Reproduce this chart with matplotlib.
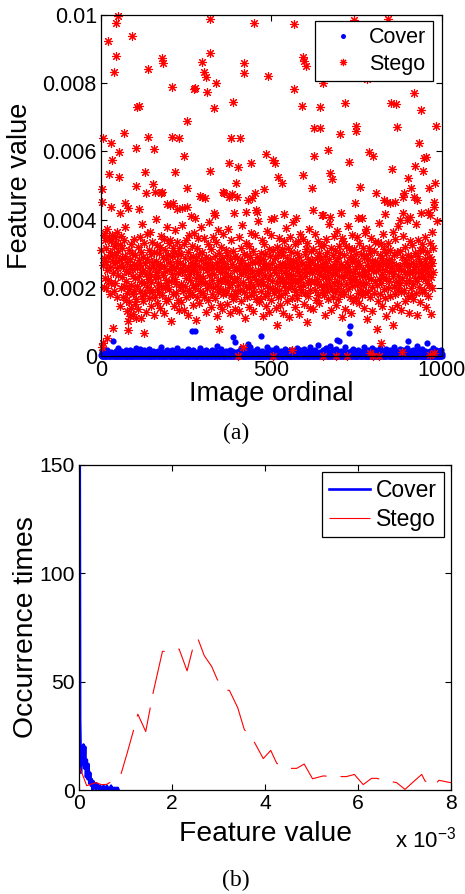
import numpy as np
import matplotlib
matplotlib.use('Agg')
import matplotlib.pyplot as plt

plt.rcParams['font.family'] = ['Liberation Sans', 'DejaVu Sans']
plt.rcParams['lines.scale_dashes'] = False

# ---- (a) feature value per image, units of 1e-5 ----
# sparse stego points above the main band (ordinal, value)
stego_sparse_ord = [49, 44, 20, 90, 44, 39, 7, 29, 31, 23, 52, 53, 56, 67, 3, 4, 29, 71, 104, 106,
                    111, 138, 137, 156, 129, 104, 133, 152, 180, 183, 179, 208, 208, 229, 217, 201, 211, 253, 243, 252,
                    237, 272, 276, 295, 302, 308, 310, 319, 336, 321, 331, 321, 296, 289, 276, 330, 362, 374, 387, 382,
                    408, 395, 402, 376, 400, 418, 418, 439, 450, 443, 453, 457, 489, 484, 477, 504, 511, 520, 531, 537,
                    499, 567, 567, 589, 592, 596, 601, 592, 620, 625, 641, 643, 626, 651, 665, 672, 677, 700, 716, 726,
                    749, 749, 760, 744, 780, 787, 799, 743, 841, 853, 850, 866, 868, 829, 839, 885, 890, 899, 909, 919,
                    927, 932, 938, 944, 948, 954, 961, 980, 976, 982, 922,
                    80, 111, 158, 176, 193, 222, 251, 305, 335, 359, 384, 432, 425, 455, 572, 623, 651, 672, 705, 755,
                    807, 834, 848, 861, 878, 887, 905, 917, 938, 966, 976, 986]
stego_sparse_val = [997, 978, 925, 938, 880, 834, 638, 626, 575, 534, 524, 599, 418, 653, 489, 453, 438, 450, 611, 731,
                    733, 841, 641, 607, 539, 499, 477, 503, 873, 860, 482, 788, 641, 638, 539, 443, 448, 689, 587, 492,
                    433, 782, 787, 861, 834, 819, 773, 888, 800, 987, 726, 543, 467, 469, 404, 418, 477, 465, 746, 638,
                    640, 506, 555, 567, 467, 858, 831, 565, 978, 462, 477, 421, 821, 591, 489, 575, 565, 526, 506, 415,
                    401, 973, 782, 733, 878, 865, 850, 531, 492, 668, 668, 731, 587, 802, 604, 536, 519, 651, 743, 568,
                    674, 660, 497, 450, 811, 599, 587, 985, 987, 547, 741, 739, 673, 457, 453, 467, 477, 523, 492, 772,
                    457, 626, 721, 543, 580, 585, 492, 506, 453, 674, 557,
                    433, 430, 482, 479, 446, 431, 436, 462, 413, 482, 474, 457, 421, 428, 404, 428, 413, 409, 418, 406,
                    477, 415, 448, 453, 399, 418, 409, 467, 418, 413, 438, 396]
# stego points below the main band
stego_low_ord = [403, 415, 503, 560, 651, 690, 721, 790, 797, 814, 822, 883, 966, 976, 809, 856, 36, 19, 5, 80, 126, 346, 516, 2]
stego_low_val = [0, 27, 0, 18, 0, 0, 0, 10, 0, 0, 37, 13, 3, 8, 78, 91, 81, 52, 37, 76, 66, 78, 91, 25]
# main band, filled into the remaining ordinals in order
stego_band = [
    312, 268, 355, 201, 287, 340, 229, 362, 275, 198, 316, 251, 371, 290, 224, 346, 183, 305, 262, 338, 215, 297, 356, 244, 279, 322, 190,
    348, 273, 214, 331, 296, 172, 258, 364, 237, 309, 281, 146, 325, 266, 199, 352, 288, 231, 317, 174, 260, 339, 206, 294, 378, 249, 163,
    221, 186, 132, 275, 103, 247, 311, 158, 196, 284, 117, 263, 328, 209, 142, 255, 302, 183, 236, 124, 344, 270, 191, 153, 228, 296, 110,
    167, 259, 204, 321, 138, 282, 234, 192, 349, 268, 112, 216, 305, 177, 246, 388, 253, 162, 291, 213, 331, 185, 274, 240, 128, 357, 201,
    285, 226, 170, 312, 258, 193, 364, 241, 147, 299, 218, 276, 335, 189, 262, 121, 306, 233, 172, 401, 280, 245, 197, 326, 154, 267, 214,
    232, 303, 188, 256, 141, 319, 271, 205, 352, 178, 290, 237, 126, 264, 342, 198, 310, 249, 161, 283, 222, 377, 208, 295, 168, 253, 330,
    197, 276, 341, 219, 264, 104, 293, 239, 182, 316, 254, 148, 302, 227, 370, 186, 261, 212, 333, 279, 164, 243, 298, 136, 317, 202, 256,
    273, 211, 159, 298, 245, 383, 191, 267, 327, 135, 252, 206, 288, 173, 339, 228, 119, 260, 304, 195, 354, 241, 180, 286, 223, 412, 267,
    248, 322, 181, 267, 208, 149, 293, 254, 361, 198, 272, 230, 107, 286, 318, 174, 247, 211, 345, 263, 155, 300, 236, 192, 379, 281, 219,
    305, 186, 258, 229, 347, 172, 274, 213, 130, 291, 251, 199, 329, 266, 163, 237, 394, 210, 283, 144, 256, 315, 224, 181, 268, 348, 202,
    240, 294, 171, 333, 258, 116, 206, 277, 224, 369, 189, 262, 301, 151, 246, 196, 321, 278, 220, 137, 286, 255, 182, 358, 233, 274, 193,
    220, 263, 311, 185, 242, 152, 297, 219, 372, 257, 203, 125, 284, 236, 340, 178, 269, 214, 307, 166, 251, 419, 227, 192, 292, 139, 261,
    176, 228, 287, 209, 348, 254, 133, 273, 195, 317, 239, 162, 281, 385, 217, 255, 188, 300, 243, 110, 268, 332, 206, 173, 259, 296, 231,
    266, 199, 324, 145, 251, 290, 217, 179, 362, 248, 275, 204, 131, 309, 187, 234, 275, 356, 168, 222, 289, 253, 397, 211, 157, 280, 244,
    213, 279, 168, 247, 303, 190, 341, 226, 258, 118, 284, 211, 265, 327, 176, 238, 299, 148, 271, 205, 366, 254, 184, 226, 313, 262, 129,
    292, 237, 200, 355, 164, 273, 220, 310, 184, 251, 406, 196, 287, 140, 243, 262, 320, 213, 174, 295, 232, 345, 193, 269, 221, 150, 304,
    180, 251, 313, 271, 225, 127, 295, 206, 336, 243, 184, 270, 218, 375, 257, 160, 287, 232, 199, 318, 264, 113, 241, 350, 205, 279, 228,
    257, 306, 214, 169, 282, 238, 392, 197, 261, 143, 327, 222, 276, 188, 249, 302, 171, 265, 337, 216, 246, 124, 289, 203, 359, 236, 275,
    226, 189, 270, 343, 207, 256, 153, 299, 234, 185, 314, 268, 101, 247, 330, 215, 283, 176, 260, 223, 371, 194, 276, 142, 308, 254, 216,
    281, 244, 137, 315, 219, 268, 193, 359, 251, 165, 290, 227, 212, 338, 179, 264, 302, 239, 156, 285, 209, 323, 248, 413, 187, 271, 233,
    203, 326, 261, 178, 294, 231, 120, 272, 212, 344, 253, 190, 306, 245, 167, 388, 227, 283, 204, 262, 135, 318, 238, 196, 297, 257, 174,
    269, 215, 351, 242, 187, 310, 258, 149, 278, 221, 367, 200, 289, 166, 252, 324, 235, 183, 301, 270, 211, 346, 114, 261, 229, 190, 336,
    238, 296, 183, 257, 137, 322, 211, 276, 246, 380, 197, 264, 318, 229, 173, 289, 250, 126, 311, 218, 275, 355, 205, 243, 162, 286, 223,
    314, 254, 226, 170, 300, 263, 208, 349, 185, 279, 240, 155, 331, 216, 267, 194, 299, 404, 234, 178, 256, 316, 207, 142, 287, 245, 361,
    186, 241, 295, 213, 373, 266, 109, 284, 232, 191, 317, 255, 174, 303, 225, 345, 262, 201, 278, 132, 249, 309, 186, 268, 219, 334, 280,
    249, 208, 277, 334, 160, 255, 227, 391, 296, 181, 264, 213, 328, 240, 146, 287, 230, 274, 358, 196, 313, 253, 169, 228, 301, 117, 264,
    272, 330, 199, 247, 285, 221, 175, 312, 259, 138, 276, 365, 235, 202, 295, 249, 182, 342, 217, 268, 151, 306, 236, 193, 382, 257, 209,
    217, 265, 309, 188, 251, 134, 289, 228, 353, 272, 195, 247, 319, 160, 281, 214, 263, 398, 239, 177, 296, 222, 271, 127, 336, 250, 198,
    291, 179, 243, 325, 210, 274, 167, 256, 302, 230, 387, 184, 265, 220, 119, 293, 246, 339, 201, 278, 158, 312, 233, 269, 189, 327, 252,
    235, 312, 259, 194, 348, 227, 283, 145, 268, 214, 305, 255, 176, 421, 240, 290, 207, 331, 263, 122, 285, 231, 364, 198, 274, 318, 246]

# cover value for images 1..1000, units of 1e-5
cover_val = [
    3, 12, 0, 1, 7, 2, 0, 15, 4, 1, 0, 9, 2, 0, 5, 1, 18, 3, 0, 6, 2, 11, 0, 1, 4, 0, 8, 2, 13, 0, 3, 1, 6, 45, 0, 2, 10, 1, 4, 0,
    1, 5, 0, 14, 2, 0, 7, 3, 1, 22, 0, 4, 1, 9, 0, 2, 6, 0, 1, 16, 3, 0, 8, 1, 2, 0, 11, 4, 0, 1, 7, 19, 2, 0, 5, 1, 0, 12, 3, 1,
    0, 8, 2, 1, 17, 0, 4, 1, 10, 2, 0, 6, 1, 3, 0, 14, 2, 0, 9, 1, 5, 0, 24, 3, 1, 0, 7, 2, 12, 0, 1, 4, 20, 0, 2, 8, 1, 0, 6, 3,
    2, 0, 11, 1, 4, 0, 18, 2, 1, 7, 0, 3, 13, 1, 0, 5, 2, 9, 0, 1, 21, 3, 0, 6, 1, 2, 0, 10, 4, 1, 0, 15, 2, 7, 0, 1, 3, 12, 0, 2,
    6, 1, 0, 9, 2, 14, 0, 3, 1, 5, 0, 11, 2, 0, 8, 1, 26, 0, 4, 2, 1, 7, 0, 13, 3, 0, 1, 10, 2, 5, 0, 1, 17, 2, 0, 6, 3, 1, 0, 9,
    0, 4, 12, 1, 0, 7, 2, 19, 1, 0, 3, 8, 0, 1, 15, 2, 5, 0, 1, 10, 0, 3, 22, 1, 6, 0, 2, 9, 1, 0, 4, 13, 0, 2, 1, 7, 0, 16, 3, 1,
    5, 0, 2, 11, 1, 0, 8, 3, 14, 0, 1, 6, 2, 0, 20, 1, 4, 0, 9, 2, 1, 0, 12, 3, 7, 73, 0, 1, 18, 2, 0, 5, 1, 10, 0, 73, 3, 1, 8, 0,
    1, 13, 0, 4, 2, 9, 0, 1, 6, 24, 0, 3, 1, 11, 2, 0, 7, 1, 0, 15, 4, 2, 0, 8, 1, 3, 19, 0, 2, 6, 1, 0, 12, 4, 0, 2, 9, 1, 0, 5,
    2, 0, 10, 1, 6, 0, 17, 3, 1, 0, 8, 2, 14, 0, 1, 5, 0, 11, 2, 29, 1, 0, 4, 9, 0, 2, 1, 13, 0, 6, 3, 1, 21, 0, 2, 8, 1, 0, 4, 12,
    0, 3, 7, 1, 0, 16, 2, 5, 1, 0, 11, 3, 0, 8, 1, 2, 19, 0, 4, 1, 10, 0, 6, 2, 14, 57, 1, 0, 9, 3, 0, 2, 41, 1, 7, 0, 12, 2, 1, 5,
    1, 0, 9, 2, 15, 0, 4, 1, 7, 0, 23, 2, 1, 6, 0, 10, 3, 0, 1, 13, 2, 5, 0, 8, 1, 0, 18, 2, 4, 34, 0, 1, 11, 3, 0, 6, 1, 27, 2, 0,
    4, 1, 0, 12, 2, 7, 0, 1, 16, 3, 0, 5, 9, 1, 0, 2, 20, 0, 1, 6, 3, 0, 11, 1, 4, 0, 8, 2, 59, 1, 0, 14, 2, 0, 5, 1, 10, 0, 3, 7,
    0, 2, 13, 1, 0, 6, 3, 25, 1, 0, 9, 2, 4, 0, 17, 1, 0, 7, 2, 11, 0, 3, 1, 19, 0, 5, 2, 0, 12, 1, 8, 0, 3, 22, 1, 0, 6, 2, 14, 0,
    3, 1, 0, 10, 2, 5, 0, 16, 1, 4, 0, 8, 2, 1, 0, 13, 6, 0, 2, 21, 1, 0, 9, 3, 0, 1, 15, 2, 7, 0, 1, 11, 0, 4, 2, 18, 0, 1, 6, 3,
    1, 9, 0, 2, 14, 0, 5, 1, 3, 0, 12, 2, 7, 0, 24, 1, 0, 4, 10, 2, 0, 6, 1, 17, 0, 3, 2, 8, 1, 0, 13, 4, 0, 2, 20, 1, 5, 0, 9, 1,
    0, 6, 2, 11, 1, 0, 16, 3, 0, 8, 1, 2, 27, 0, 4, 1, 12, 0, 2, 7, 0, 1, 14, 3, 5, 0, 19, 1, 2, 0, 10, 4, 0, 1, 31, 2, 0, 8, 1, 6,
    2, 0, 13, 1, 5, 0, 9, 2, 1, 18, 0, 3, 7, 0, 1, 11, 2, 0, 23, 4, 1, 0, 6, 15, 0, 2, 1, 10, 3, 0, 28, 1, 4, 0, 12, 2, 0, 7, 1, 17,
    0, 3, 9, 1, 0, 14, 2, 5, 0, 21, 1, 47, 0, 8, 2, 1, 45, 0, 11, 3, 1, 0, 6, 16, 2, 0, 1, 9, 0, 4, 13, 2, 0, 1, 7, 25, 0, 3, 1, 10,
    1, 0, 12, 4, 0, 2, 67, 1, 0, 88, 6, 2, 0, 15, 1, 3, 0, 9, 2, 20, 0, 1, 7, 0, 11, 3, 1, 0, 14, 2, 5, 0, 18, 1, 0, 8, 2, 12, 0, 4,
    6, 1, 0, 10, 2, 0, 15, 3, 1, 0, 8, 26, 0, 2, 4, 1, 13, 0, 7, 2, 0, 1, 19, 0, 3, 9, 1, 0, 12, 2, 5, 0, 1, 22, 0, 3, 8, 1, 0, 14,
    0, 2, 7, 1, 17, 0, 4, 1, 10, 0, 2, 13, 0, 6, 1, 3, 24, 0, 1, 9, 2, 0, 12, 4, 1, 0, 16, 2, 5, 0, 1, 8, 3, 0, 20, 1, 0, 11, 2, 6,
    3, 0, 14, 1, 2, 9, 0, 1, 18, 0, 5, 2, 11, 0, 1, 7, 3, 0, 26, 1, 0, 4, 13, 2, 0, 8, 1, 0, 16, 3, 2, 0, 10, 1, 6, 0, 21, 2, 1, 0,
    12, 1, 0, 5, 2, 17, 0, 3, 1, 8, 0, 14, 2, 0, 6, 1, 23, 0, 4, 44, 1, 0, 10, 2, 0, 7, 1, 15, 0, 3, 2, 11, 0, 1, 19, 4, 0, 2, 9, 1,
    0, 6, 1, 13, 0, 2, 28, 1, 4, 0, 10, 2, 0, 17, 1, 5, 0, 8, 3, 1, 0, 21, 2, 0, 12, 1, 6, 0, 3, 15, 1, 0, 9, 2, 0, 38, 1, 4, 0, 11,
    2, 0, 7, 1, 16, 0, 3, 1, 10, 0, 5, 2, 24, 0, 1, 8, 0, 13, 2, 1, 0, 6, 19, 1, 0, 4, 11, 2, 0, 1, 14, 0, 3, 9, 1, 0, 17, 2, 5, 0]

# ---- (b) occurrence counts, feature value in units of 1e-3 ----
cover_hist_x = [0.000, 0.018, 0.036, 0.054, 0.072, 0.090, 0.108, 0.126, 0.144, 0.162, 0.180, 0.198,
                0.216, 0.234, 0.252, 0.270, 0.288, 0.306, 0.324, 0.342, 0.360, 0.378, 0.396, 0.414,
                0.432, 0.450, 0.468, 0.486, 0.504, 0.522, 0.540, 0.558, 0.576, 0.594, 0.612, 0.630,
                0.648, 0.666, 0.684, 0.702, 0.720, 0.738, 0.756, 0.774, 0.792, 0.810, 0.828, 0.846]
cover_hist_n = [300, 33, 8, 20, 12, 21, 10, 20, 6, 14, 5, 12,
                3, 8, 2, 5, 0, 4, 1, 3, 0, 3, 1, 2,
                0, 2, 0, 1, 0, 2, 0, 1, 0, 2, 0, 1,
                0, 1, 2, 0, 1, 0, 1, 0, 1, 0, 1, 0]
stego_hist_x = [0.00, 0.16, 0.35, 0.48, 0.59, 0.74, 0.89, 1.03, 1.16, 1.26, 1.43, 1.59, 1.79, 1.86, 2.00,
                2.15, 2.32, 2.45, 2.55, 2.69, 2.85, 2.97, 3.08, 3.17, 3.23, 3.41, 3.55, 3.66, 3.77, 3.96,
                4.12, 4.25, 4.38, 4.50, 4.68, 4.84, 5.02, 5.25, 5.42, 5.59, 5.75, 5.92, 6.11, 6.29, 6.40,
                6.57, 6.74, 6.83, 7.01, 7.19, 7.37, 7.44, 7.63, 7.74, 7.99, 8.20]
stego_hist_n = [11, 2, 3.4, 2.5, 2.6, 4.5, 6.8, 17, 27, 35, 27, 45, 64, 64, 65,
                65, 55, 66, 70, 62, 57, 51, 48, 46, 46, 38, 28, 25, 22, 14.5,
                18.3, 12.3, 11, 10, 10, 12, 5.2, 6.5, 6.3, 6.2, 6.2, 7.2, 2.5, 5.4, 5.4,
                4.5, 3.8, 3.4, 0.3, 3.8, 7.2, 4.2, 1.8, 4.5, 3.4, 3]

# ordinals for the stego band
used = np.unique(np.array(stego_sparse_ord + stego_low_ord))
rest = np.setdiff1d(np.arange(1, 1001), used)[:len(stego_band)]
stego_ord = np.concatenate([rest, stego_sparse_ord, stego_low_ord])
stego_val = np.concatenate([stego_band[:len(rest)], stego_sparse_val, stego_low_val]) * 1e-5
cover_ord = np.arange(1, len(cover_val) + 1)
cover_v = np.array(cover_val) * 1e-5

fig = plt.figure(figsize=(4.65, 8.94), dpi=100)

ax1 = fig.add_axes([0.2172, 0.6018, 0.7333, 0.3814])
ax1.plot(cover_ord, cover_v, linestyle='none', marker='o', ms=4.5, mew=0,
         color='#0000ff', label='Cover', clip_on=False)
ax1.plot(stego_ord, stego_val, linestyle='none', marker=(8, 2, 0), ms=6.5, mew=0.8,
         color='#ff0000', label='Stego', clip_on=False)
ax1.set_xlim(0, 1000)
ax1.set_ylim(0, 0.01)
ax1.set_xticks([0, 500, 1000])
ax1.set_yticks([0, 0.002, 0.004, 0.006, 0.008, 0.01])
ax1.set_yticklabels(['0', '0.002', '0.004', '0.006', '0.008', '0.01'])
ax1.set_xlabel('Image ordinal', fontsize=19.5)
ax1.set_ylabel('Feature value', fontsize=19.5)
ax1.xaxis.set_label_coords(0.5, -0.072)
ax1.yaxis.set_label_coords(-0.2, 0.5)
leg1 = ax1.legend(loc='upper right', bbox_to_anchor=(433 / 465, 1 - 21 / 894),
                  bbox_transform=fig.transFigure, borderaxespad=0, fontsize=15.5,
                  fancybox=False, framealpha=1, edgecolor='black', handlelength=2.0,
                  handletextpad=0.2, borderpad=0.3, labelspacing=0.25, markerscale=0.8)
leg1.get_frame().set_linewidth(0.9)

ax2 = fig.add_axes([0.1705, 0.1163, 0.7994, 0.3636])
ax2.plot(cover_hist_x, cover_hist_n, color='#0000ff', lw=1.9, label='Cover')
ax2.plot(stego_hist_x, stego_hist_n, color='#ff0000', lw=0.8, dashes=(33, 10), label='Stego')
ax2.set_xlim(0, 8)
ax2.set_ylim(0, 150)
ax2.set_xticks([0, 2, 4, 6, 8])
ax2.set_yticks([0, 50, 100, 150])
ax2.set_xlabel('Feature value', fontsize=20.3)
ax2.set_ylabel('Occurrence times', fontsize=20.3)
ax2.xaxis.set_label_coords(0.5, -0.095)
ax2.yaxis.set_label_coords(-0.108, 0.5)
ax2.text(0.85, -0.178, r'x 10$^{\mathregular{-3}}$', transform=ax2.transAxes,
         fontsize=16, ha='left', va='baseline')
leg2 = ax2.legend(loc='upper right', bbox_to_anchor=(444 / 465, 1 - 472 / 894),
                  bbox_transform=fig.transFigure, borderaxespad=0, fontsize=16.5,
                  fancybox=False, framealpha=1, edgecolor='black', handlelength=1.8,
                  handletextpad=0.25, borderpad=0.3, labelspacing=0.25)
leg2.get_frame().set_linewidth(0.9)

for ax, ls in ((ax1, 15.5), (ax2, 15.2)):
    ax.tick_params(direction='in', top=True, right=True, length=4, width=0.8,
                   labelsize=ls, pad=3)
    for sp in ax.spines.values():
        sp.set_linewidth(0.9)

fig.text(236 / 465, 1 - 433 / 894, '(a)', ha='center', va='center',
         family='Liberation Serif', fontsize=17)
fig.text(236 / 465, 1 - 880 / 894, '(b)', ha='center', va='center',
         family='Liberation Serif', fontsize=17)

fig.savefig('out.png', dpi=100)
